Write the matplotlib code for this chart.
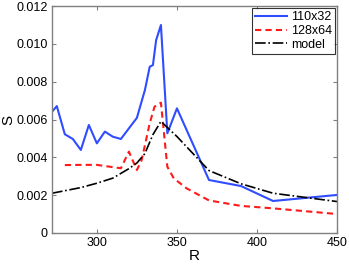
import matplotlib
matplotlib.use("Agg")
import matplotlib.pyplot as plt
from matplotlib.ticker import FuncFormatter

plt.rcParams['font.family'] = ['Liberation Sans', 'DejaVu Sans']

# Data
r_110 = [272, 275, 280, 285, 290, 295, 300, 305, 310, 315, 320, 325, 330, 333, 335, 337, 340, 344, 350, 370, 390, 410, 450]
s_110 = [0.00641, 0.00671, 0.00522, 0.00497, 0.00439, 0.00571, 0.00474, 0.00536, 0.00509, 0.00497,
         0.00553, 0.00609, 0.00756, 0.00879, 0.00888, 0.0102, 0.0110, 0.00527, 0.00659, 0.0028,
         0.00248, 0.00169, 0.00201]

r_128 = [280, 290, 300, 310, 315, 320, 325, 328, 333, 336, 340, 344, 348, 356, 370, 390, 410, 450]
s_128 = [0.00359, 0.0036, 0.0036, 0.00348, 0.00342, 0.0043, 0.00333, 0.00386, 0.0058, 0.00668,
         0.00689, 0.0035, 0.00289, 0.00236, 0.00172, 0.00143, 0.0013, 0.0010]

r_model = [272, 290, 300, 310, 320, 325, 330, 335, 340, 345, 350, 360, 370, 390, 410, 450]
s_model = [0.0021, 0.0024, 0.00263, 0.0029, 0.0034, 0.0037, 0.0042, 0.0052, 0.0059, 0.0055,
           0.0051, 0.0042, 0.0033, 0.0026, 0.0021, 0.00166]

xticks = [300, 350, 400, 450]
yticks = [0, 0.002, 0.004, 0.006, 0.008, 0.010, 0.012]

fig = plt.figure(figsize=(3.49, 2.65), dpi=100)
ax = fig.add_axes([0.149, 0.121, 0.817, 0.856])

ax.plot(r_110, s_110, '-', color='#2f4dff', lw=1.5, label='110x32')
ax.plot(r_128, s_128, '--', color='#ff1a1a', lw=1.5, label='128x64', dashes=(3, 2))
ax.plot(r_model, s_model, '-.', color='black', lw=1.2, label='model')

ax.set_xlim(272, 450)
ax.set_ylim(0, 0.012)
ax.set_xticks(xticks)
ax.set_yticks(yticks)
ax.yaxis.set_major_formatter(FuncFormatter(lambda v, p: '0' if v == 0 else f'{v:.3f}'))
ax.tick_params(direction='in', top=True, right=True, length=3, color='#808080', labelsize=9, pad=3)
for s in ax.spines.values():
    s.set_color('#808080')
    s.set_linewidth(1.0)

ax.set_xlabel('R', fontsize=11, labelpad=0)
ax.set_ylabel('S', fontsize=11, labelpad=1)

leg = ax.legend(loc='upper right', fontsize=9, frameon=True, fancybox=False,
                borderpad=0.25, handlelength=2.6, labelspacing=0.15, handletextpad=0.3,
                borderaxespad=0.15)
leg.get_frame().set_edgecolor('black')
leg.get_frame().set_linewidth(0.8)

fig.savefig('out.png', dpi=100)
